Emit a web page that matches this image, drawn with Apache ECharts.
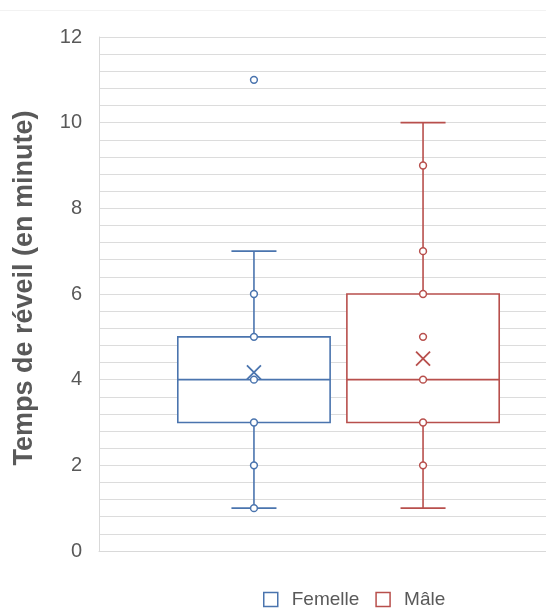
<!DOCTYPE html>
<html>
<head>
<meta charset="utf-8">
<script src="https://cdn.jsdelivr.net/npm/echarts@6/dist/echarts.min.js"></script>
<style>
  html, body { margin: 0; padding: 0; background: #fff; }
  #chart { width: 546px; height: 610px; }
</style>
</head>
<body>
<div id="chart"></div>
<script>
// ---- data ----
const categories = [''];
const seriesNames = ['Femelle', 'Mâle'];
// [min, Q1, median, Q3, max]
const femelleBox = [1, 3, 4, 5, 7];
const maleBox = [1, 3, 4, 6, 10];
const femellePoints = [1, 2, 3, 4, 5, 6];
const malePoints = [2, 3, 4, 5, 6, 7, 9];
const femelleOutliers = [11];
const maleOutliers = [];
const femelleMean = 4.17;
const maleMean = 4.49;
const yTicks = [0, 2, 4, 6, 8, 10, 12];

// ---- styling ----
const colors = ['#4a74ae', '#b84f4c'];
const offsets = [-0.1765, 0.1765];   // fraction of category band
const boxFrac = 0.318;
const capFrac = 0.094;
const LW = 1.6;
const FONT = 'Liberation Sans, Arial, sans-serif';

function boxRender(idx) {
  return function (params, api) {
    const band = api.size([1, 0])[0];
    const cx = api.coord([api.value(0), 0])[0] + offsets[idx] * band;
    const y = v => api.coord([0, v])[1];
    const yMin = y(api.value(1)), yQ1 = y(api.value(2)), yMed = y(api.value(3)),
          yQ3 = y(api.value(4)), yMax = y(api.value(5));
    const bw = boxFrac * band, cw = capFrac * band;
    const st = { stroke: colors[idx], lineWidth: LW, fill: null };
    return {
      type: 'group',
      children: [
        { type: 'line', shape: { x1: cx, y1: yQ1, x2: cx, y2: yMin }, style: st },
        { type: 'line', shape: { x1: cx, y1: yQ3, x2: cx, y2: yMax }, style: st },
        { type: 'line', shape: { x1: cx - cw / 2, y1: yMin, x2: cx + cw / 2, y2: yMin }, style: st },
        { type: 'line', shape: { x1: cx - cw / 2, y1: yMax, x2: cx + cw / 2, y2: yMax }, style: st },
        { type: 'rect', shape: { x: cx - bw / 2, y: yQ3, width: bw, height: yQ1 - yQ3 },
          style: { stroke: colors[idx], lineWidth: LW, fill: '#fff' } },
        { type: 'line', shape: { x1: cx - bw / 2, y1: yMed, x2: cx + bw / 2, y2: yMed }, style: st }
      ]
    };
  };
}

function pointRender(idx) {
  return function (params, api) {
    const band = api.size([1, 0])[0];
    const p = api.coord([api.value(0), api.value(1)]);
    const cx = p[0] + offsets[idx] * band;
    return {
      type: 'circle',
      shape: { cx: cx, cy: p[1], r: 3.4 },
      style: { stroke: colors[idx], lineWidth: 1.5, fill: '#fff' }
    };
  };
}

function meanRender(idx) {
  return function (params, api) {
    const band = api.size([1, 0])[0];
    const p = api.coord([api.value(0), api.value(1)]);
    const cx = p[0] + offsets[idx] * band, cy = p[1];
    const h = 7;
    const st = { stroke: colors[idx], lineWidth: 1.8 };
    return {
      type: 'group',
      children: [
        { type: 'line', shape: { x1: cx - h, y1: cy - h, x2: cx + h, y2: cy + h }, style: st },
        { type: 'line', shape: { x1: cx - h, y1: cy + h, x2: cx + h, y2: cy - h }, style: st }
      ]
    };
  };
}

const boxes = [femelleBox, maleBox];
const points = [femellePoints.concat(femelleOutliers), malePoints.concat(maleOutliers)];
const means = [femelleMean, maleMean];

const series = [];
[0, 1].forEach(i => {
  series.push({
    name: seriesNames[i], type: 'custom', renderItem: boxRender(i),
    encode: { x: 0, y: [1, 2, 3, 4, 5] },
    data: [[0].concat(boxes[i])], z: 2
  });
});
[0, 1].forEach(i => {
  series.push({
    name: seriesNames[i], type: 'custom', renderItem: pointRender(i),
    encode: { x: 0, y: 1 },
    data: points[i].map(v => [0, v]), z: 3
  });
  series.push({
    name: seriesNames[i], type: 'custom', renderItem: meanRender(i),
    encode: { x: 0, y: 1 },
    data: [[0, means[i]]], z: 4
  });
});

const chart = echarts.init(document.getElementById('chart'), null, { renderer: 'canvas' });
chart.setOption({
  animation: false,
  backgroundColor: '#fff',
  textStyle: { fontFamily: FONT },
  grid: { left: 99, right: -32, top: 37, bottom: 59, containLabel: false, outerBoundsMode: 'none' },
  legend: {
    top: 585, left: 258, itemWidth: 14, itemHeight: 14, itemGap: 16,
    selectedMode: false,
    textStyle: { fontSize: 19, color: '#595959', fontFamily: FONT, padding: [0, 0, 0, 9] },
    data: seriesNames.map((n, i) => ({
      name: n, icon: 'rect',
      itemStyle: { color: '#fff', borderColor: colors[i], borderWidth: 1.5 }
    }))
  },
  xAxis: {
    type: 'category', data: categories,
    axisLine: { show: true, lineStyle: { color: '#d9d9d9', width: 1 } },
    axisTick: { show: false }, axisLabel: { show: false }, splitLine: { show: false }
  },
  yAxis: {
    type: 'value', min: yTicks[0], max: yTicks[yTicks.length - 1], interval: yTicks[1] - yTicks[0],
    name: 'Temps de réveil (en minute)', nameLocation: 'middle', nameGap: 61,
    nameTextStyle: { fontSize: 27, fontWeight: 'bold', color: '#595959', fontFamily: FONT, padding: [0, 0, 0, 12] },
    axisLine: { show: true, lineStyle: { color: '#d9d9d9', width: 1 } },
    axisTick: { show: false },
    axisLabel: { fontSize: 20, color: '#595959', margin: 17 },
    splitLine: { show: true, lineStyle: { color: '#dcdcdc', width: 1 } },
    minorTick: { show: false, splitNumber: 5 },
    minorSplitLine: { show: true, lineStyle: { color: '#dcdcdc', width: 1 } }
  },
  graphic: [{
    type: 'line', shape: { x1: 0, y1: 10.5, x2: 546, y2: 10.5 },
    style: { stroke: '#f2f2f2', lineWidth: 1 }, silent: true
  }],
  series: series
});
</script>
</body>
</html>
